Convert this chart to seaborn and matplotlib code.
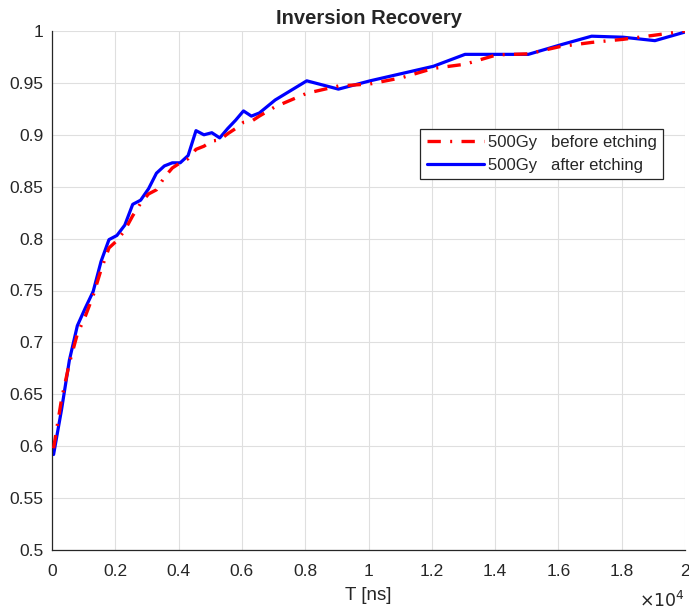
import matplotlib
matplotlib.use("Agg")
import matplotlib.pyplot as plt
import seaborn as sns
import pandas as pd
from matplotlib.ticker import FuncFormatter, MultipleLocator
from matplotlib.lines import Line2D

# ---- data ----
T_ns = [50, 300, 550, 800, 1050, 1300, 1550, 1800, 2050, 2300, 2550, 2800,
        3050, 3300, 3550, 3800, 4050, 4300, 4550, 4800, 5050, 5300, 5550,
        5800, 6050, 6300, 6550, 7050, 8050, 9050, 10050, 11050, 12050,
        13050, 14050, 15050, 16050, 17050, 18050, 19050, 20000]

before_etching = [0.598, 0.645, 0.680, 0.708, 0.725, 0.745, 0.770, 0.791,
                  0.798, 0.808, 0.822, 0.834, 0.843, 0.847, 0.859, 0.868,
                  0.873, 0.877, 0.886, 0.889, 0.894, 0.895, 0.901, 0.906,
                  0.912, 0.913, 0.918, 0.927, 0.940, 0.947, 0.949, 0.955,
                  0.964, 0.968, 0.977, 0.978, 0.985, 0.989, 0.992, 0.996,
                  1.000]

after_etching = [0.592, 0.635, 0.683, 0.716, 0.733, 0.749, 0.778, 0.799,
                 0.803, 0.813, 0.833, 0.837, 0.848, 0.863, 0.870, 0.873,
                 0.873, 0.880, 0.904, 0.900, 0.902, 0.897, 0.906, 0.914,
                 0.923, 0.918, 0.921, 0.9335, 0.952, 0.944, 0.952, 0.959,
                 0.966, 0.9775, 0.9775, 0.9775, 0.9865, 0.995, 0.994, 0.9907,
                 0.999]

labels = ["500Gy   before etching", "500Gy   after etching"]
title = "Inversion Recovery"
xlabel = "T [ns]"

df = pd.DataFrame({
    "T": T_ns * 2,
    "value": before_etching + after_etching,
    "series": [labels[0]] * len(T_ns) + [labels[1]] * len(T_ns),
})

sns.set_style("white")
plt.rcParams["font.family"] = ["Liberation Sans", "DejaVu Sans"]

RED_DASH = (4, 2.8, 0.6, 2.8)

fig = plt.figure(figsize=(6.89, 6.13), dpi=100)
ax = fig.add_axes([52 / 689, 1 - 550 / 613, 633 / 689, 519 / 613])

sns.lineplot(data=df, x="T", y="value", hue="series", style="series",
             palette={labels[0]: "#ff0000", labels[1]: "#0000ff"},
             dashes={labels[0]: RED_DASH, labels[1]: ""},
             sort=False, estimator=None, ax=ax, legend=False)
lines = ax.get_lines()
lines[0].set_linewidth(2.4)
lines[1].set_linewidth(2.3)
lines[0].set_zorder(3)
lines[1].set_zorder(2)

ax.set_xlim(0, 20000)
ax.set_ylim(0.5, 1.0)
ax.xaxis.set_major_locator(MultipleLocator(2000))
ax.yaxis.set_major_locator(MultipleLocator(0.05))
ax.xaxis.set_major_formatter(FuncFormatter(lambda v, p: f"{v / 1e4:g}"))
ax.yaxis.set_major_formatter(FuncFormatter(lambda v, p: f"{round(v, 2):g}"))

ax.grid(True, color="#dfdfdf", linewidth=0.8)
ax.set_axisbelow(True)
for s in ["top", "right"]:
    ax.spines[s].set_visible(False)
for s in ["left", "bottom"]:
    ax.spines[s].set_color("#262626")
    ax.spines[s].set_linewidth(0.9)

ax.tick_params(direction="in", length=5, width=0.9, colors="#262626",
               labelsize=12.5, labelcolor="#262626")
ax.tick_params(axis="x", pad=10)
ax.tick_params(axis="y", pad=6)

ax.set_title(title, fontsize=14.5, fontweight="bold", pad=5)
ax.set_xlabel(xlabel, fontsize=13.5, color="#262626", labelpad=6)
ax.set_ylabel("")
ax.text(1.0, -0.096, r"$\times10^{4}$", transform=ax.transAxes,
        ha="right", va="center", fontsize=12.5, color="#262626")

handles = [Line2D([], [], color="#ff0000", lw=2.4, linestyle=(0, RED_DASH)),
           Line2D([], [], color="#0000ff", lw=2.3)]
leg = ax.legend(handles, labels, loc="upper right",
                bbox_to_anchor=(0.966, 0.812), fontsize=12, frameon=True,
                fancybox=False, edgecolor="#262626", handlelength=3.4,
                handletextpad=0.25, borderpad=0.4, labelspacing=0.45,
                borderaxespad=0)
leg.get_frame().set_linewidth(0.9)
leg.get_frame().set_alpha(1)

fig.savefig("out.png", dpi=100)
